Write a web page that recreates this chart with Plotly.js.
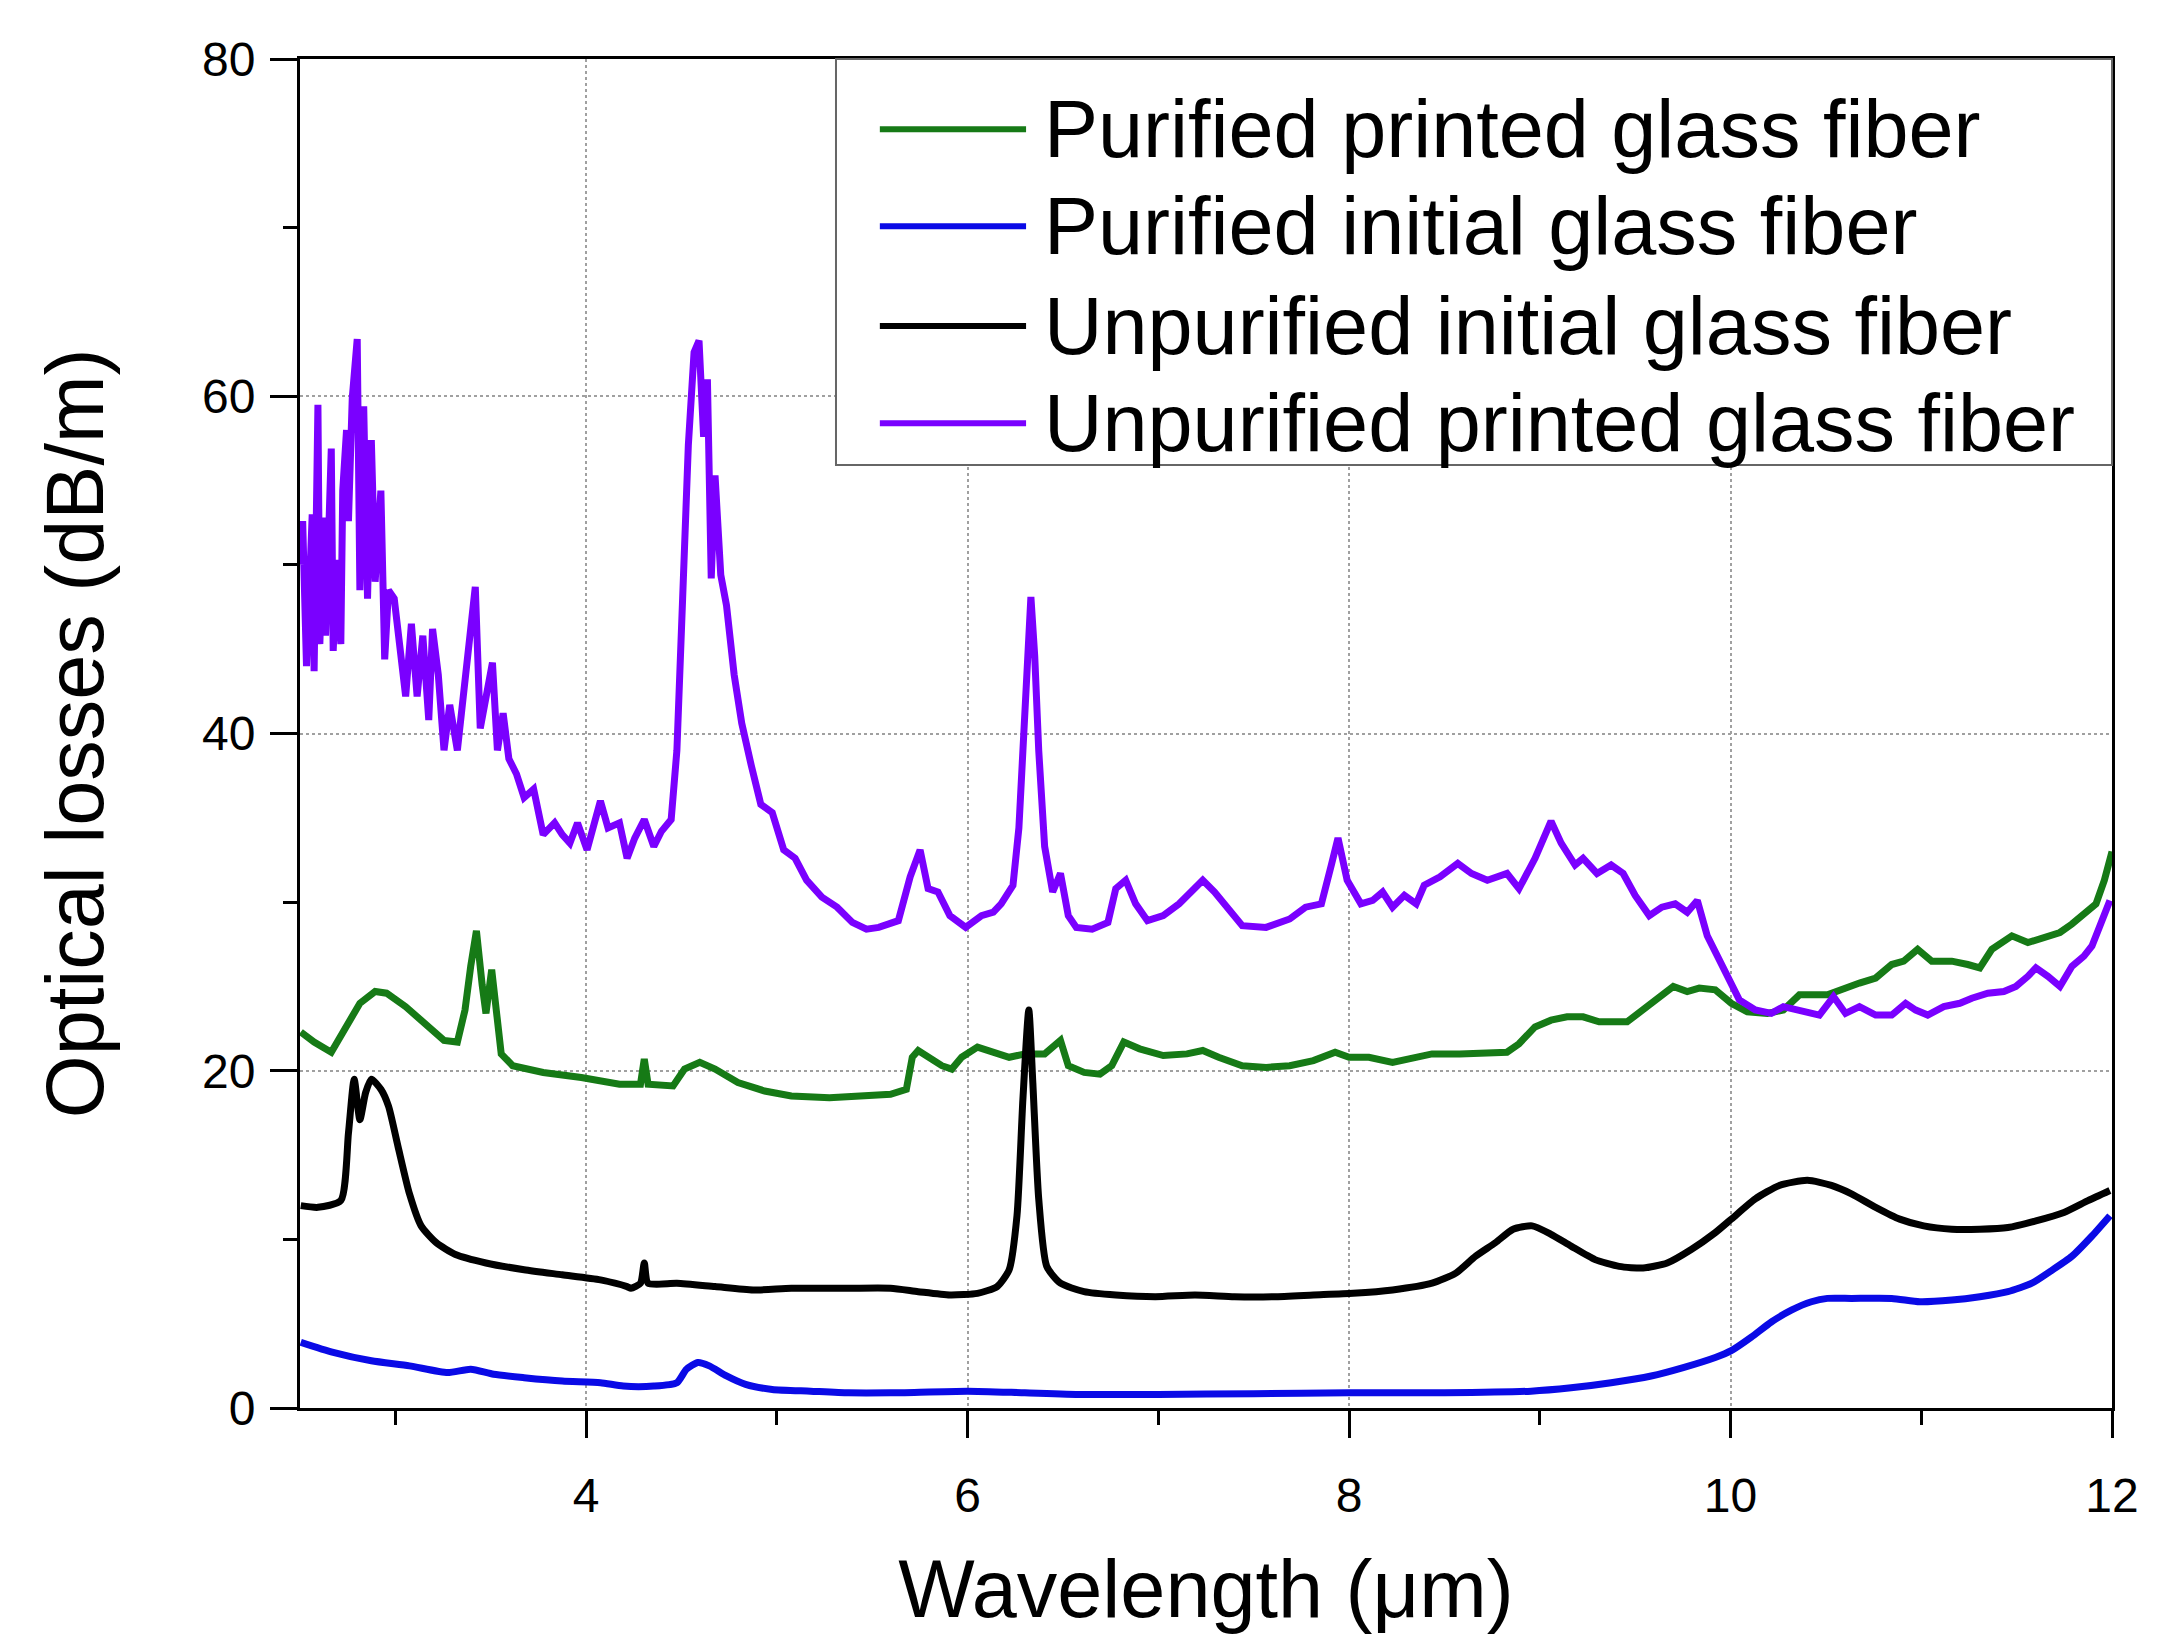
<!DOCTYPE html>
<html>
<head>
<meta charset="utf-8">
<script src="https://cdn.plot.ly/plotly-3.0.1.min.js"></script>
<style>
  html, body { margin: 0; padding: 0; background: #fff; }
  #chart { width: 2166px; height: 1648px; }
</style>
</head>
<body>
<div id="chart"></div>
<script>
/* Optical losses vs wavelength for four chalcogenide fibers.
   Values (x in um, y in dB/m). */

const wlPurPrinted = [2.504, 2.574, 2.664, 2.734, 2.814, 2.894, 2.954, 3.054, 3.155, 3.255, 3.325, 3.365, 3.395, 3.425, 3.455, 3.475, 3.505, 3.525, 3.555, 3.615, 3.775, 3.975, 4.175, 4.285, 4.305, 4.325, 4.456, 4.516, 4.596, 4.676, 4.796, 4.936, 5.076, 5.276, 5.476, 5.596, 5.679, 5.710, 5.741, 5.803, 5.865, 5.917, 5.969, 6.052, 6.135, 6.218, 6.301, 6.404, 6.487, 6.528, 6.611, 6.694, 6.756, 6.819, 6.902, 7.026, 7.150, 7.233, 7.316, 7.440, 7.565, 7.689, 7.813, 7.927, 8.000, 8.104, 8.228, 8.332, 8.435, 8.580, 8.725, 8.828, 8.891, 8.975, 9.059, 9.143, 9.227, 9.311, 9.458, 9.542, 9.626, 9.700, 9.773, 9.836, 9.920, 10.004, 10.088, 10.193, 10.277, 10.361, 10.508, 10.592, 10.676, 10.761, 10.845, 10.908, 10.981, 11.055, 11.160, 11.244, 11.307, 11.370, 11.475, 11.559, 11.643, 11.727, 11.790, 11.853, 11.916, 11.960, 12.0];
const lossPurPrinted = [22.3, 21.7, 21.1, 22.4, 24.0, 24.7, 24.6, 23.8, 22.8, 21.8, 21.7, 23.6, 26.2, 28.3, 25.1, 23.4, 26.0, 24.2, 21.0, 20.3, 19.9, 19.6, 19.2, 19.2, 20.7, 19.2, 19.1, 20.1, 20.5, 20.1, 19.3, 18.8, 18.5, 18.4, 18.5, 18.6, 18.9, 20.8, 21.2, 20.8, 20.3, 20.1, 20.8, 21.4, 21.1, 20.8, 21.0, 21.0, 21.8, 20.3, 19.9, 19.8, 20.3, 21.7, 21.3, 20.9, 21.0, 21.2, 20.8, 20.3, 20.2, 20.3, 20.6, 21.1, 20.8, 20.8, 20.5, 20.8, 21.0, 21.0, 21.0, 21.1, 21.6, 22.6, 23.0, 23.2, 23.2, 22.9, 22.9, 23.6, 24.4, 25.0, 24.7, 24.9, 24.8, 24.0, 23.5, 23.4, 23.6, 24.5, 24.5, 24.9, 25.2, 25.5, 26.3, 26.5, 27.2, 26.5, 26.5, 26.3, 26.1, 27.2, 28.0, 27.6, 27.9, 28.2, 28.7, 29.3, 29.9, 31.3, 33.0];

const wlPurInitial = [2.504, 2.674, 2.874, 3.074, 3.274, 3.395, 3.515, 3.675, 3.875, 4.075, 4.195, 4.355, 4.476, 4.526, 4.586, 4.646, 4.736, 4.836, 4.976, 5.176, 5.376, 5.596, 6.0, 6.3, 6.6, 7.0, 7.5, 8.0, 8.5, 8.954, 9.164, 9.374, 9.584, 9.752, 9.920, 10.004, 10.109, 10.214, 10.319, 10.424, 10.508, 10.634, 10.845, 10.992, 11.160, 11.307, 11.454, 11.580, 11.676, 11.790, 11.895, 11.989];
const lossPurInitial = [3.9, 3.3, 2.8, 2.5, 2.1, 2.3, 2.0, 1.8, 1.6, 1.5, 1.3, 1.3, 1.5, 2.3, 2.7, 2.5, 1.9, 1.4, 1.1, 1.0, 0.9, 0.9, 1.0, 0.9, 0.8, 0.8, 0.85, 0.9, 0.9, 1.0, 1.2, 1.5, 1.9, 2.4, 3.0, 3.4, 4.2, 5.1, 5.8, 6.3, 6.5, 6.5, 6.5, 6.3, 6.4, 6.6, 6.9, 7.4, 8.1, 9.0, 10.2, 11.4];

const wlUnpInitial = [2.504, 2.594, 2.714, 2.754, 2.784, 2.814, 2.844, 2.874, 2.924, 2.964, 3.014, 3.074, 3.135, 3.215, 3.315, 3.475, 3.675, 3.875, 4.075, 4.215, 4.235, 4.285, 4.305, 4.325, 4.476, 4.676, 4.876, 5.076, 5.376, 5.596, 5.741, 5.907, 6.052, 6.155, 6.218, 6.259, 6.290, 6.321, 6.342, 6.373, 6.415, 6.487, 6.611, 6.777, 6.984, 7.192, 7.399, 7.606, 7.813, 8.021, 8.228, 8.435, 8.560, 8.663, 8.767, 8.860, 8.960, 9.059, 9.164, 9.290, 9.416, 9.542, 9.668, 9.794, 9.920, 10.004, 10.130, 10.256, 10.403, 10.529, 10.634, 10.761, 10.887, 11.013, 11.160, 11.307, 11.454, 11.601, 11.748, 11.874, 11.989];
const lossUnpInitial = [12.0, 11.9, 12.3, 16.3, 19.5, 17.1, 18.7, 19.5, 18.9, 17.9, 15.5, 12.7, 10.8, 9.8, 9.1, 8.6, 8.2, 7.9, 7.6, 7.2, 7.1, 7.4, 8.6, 7.4, 7.4, 7.2, 7.0, 7.1, 7.1, 7.1, 6.9, 6.7, 6.8, 7.2, 8.2, 11.4, 18.3, 23.6, 19.3, 12.4, 8.4, 7.4, 6.9, 6.7, 6.6, 6.7, 6.6, 6.6, 6.7, 6.8, 7.0, 7.4, 8.0, 9.0, 9.8, 10.6, 10.8, 10.3, 9.6, 8.8, 8.4, 8.3, 8.6, 9.4, 10.4, 11.2, 12.4, 13.2, 13.5, 13.2, 12.7, 11.9, 11.2, 10.8, 10.6, 10.6, 10.7, 11.1, 11.6, 12.3, 12.9];

const wlUnpPrinted = [2.504, 2.514, 2.534, 2.564, 2.574, 2.594, 2.604, 2.624, 2.634, 2.664, 2.674, 2.694, 2.714, 2.724, 2.744, 2.754, 2.774, 2.800, 2.814, 2.834, 2.854, 2.874, 2.894, 2.924, 2.944, 2.964, 2.994, 3.024, 3.054, 3.084, 3.114, 3.144, 3.175, 3.195, 3.225, 3.255, 3.285, 3.325, 3.355, 3.385, 3.419, 3.445, 3.475, 3.509, 3.535, 3.565, 3.595, 3.635, 3.675, 3.725, 3.775, 3.835, 3.875, 3.915, 3.955, 4.005, 4.075, 4.115, 4.175, 4.215, 4.255, 4.305, 4.355, 4.395, 4.446, 4.476, 4.506, 4.536, 4.566, 4.592, 4.616, 4.636, 4.656, 4.676, 4.706, 4.736, 4.776, 4.816, 4.866, 4.916, 4.976, 5.036, 5.096, 5.156, 5.236, 5.316, 5.396, 5.470, 5.534, 5.637, 5.699, 5.751, 5.793, 5.845, 5.907, 5.990, 6.073, 6.135, 6.176, 6.238, 6.269, 6.301, 6.317, 6.332, 6.352, 6.373, 6.404, 6.446, 6.487, 6.528, 6.570, 6.653, 6.736, 6.777, 6.829, 6.881, 6.943, 7.026, 7.109, 7.192, 7.233, 7.295, 7.358, 7.440, 7.565, 7.689, 7.772, 7.855, 7.907, 7.942, 7.990, 8.062, 8.124, 8.176, 8.228, 8.290, 8.352, 8.394, 8.477, 8.570, 8.642, 8.725, 8.828, 8.891, 8.975, 9.059, 9.112, 9.185, 9.227, 9.300, 9.374, 9.437, 9.500, 9.574, 9.640, 9.710, 9.773, 9.826, 9.878, 9.962, 10.046, 10.130, 10.214, 10.277, 10.361, 10.466, 10.540, 10.603, 10.676, 10.761, 10.845, 10.918, 10.971, 11.034, 11.118, 11.202, 11.265, 11.349, 11.433, 11.496, 11.559, 11.601, 11.664, 11.727, 11.790, 11.853, 11.895, 11.937, 11.989];
const lossUnpPrinted = [50.0, 52.6, 44.0, 53.0, 43.7, 59.5, 45.3, 52.8, 45.8, 56.9, 44.9, 50.3, 45.3, 54.4, 58.0, 52.6, 59.9, 63.4, 48.5, 59.4, 48.0, 57.4, 49.0, 54.4, 44.4, 48.5, 48.0, 44.6, 42.2, 46.5, 42.2, 45.8, 40.8, 46.2, 43.5, 39.0, 41.7, 39.0, 42.2, 45.1, 48.7, 40.3, 42.2, 44.2, 39.0, 41.2, 38.5, 37.6, 36.2, 36.7, 34.0, 34.7, 34.0, 33.5, 34.7, 33.1, 36.0, 34.4, 34.7, 32.6, 33.8, 34.9, 33.3, 34.2, 34.9, 39.0, 48.0, 57.1, 62.6, 63.3, 57.6, 61.0, 49.2, 55.3, 49.4, 47.6, 43.5, 40.6, 38.1, 35.8, 35.3, 33.1, 32.6, 31.3, 30.3, 29.7, 28.8, 28.4, 28.5, 28.9, 31.5, 33.1, 30.8, 30.6, 29.2, 28.5, 29.2, 29.4, 29.9, 31.0, 34.4, 41.2, 45.8, 48.1, 44.6, 39.0, 33.3, 30.6, 31.7, 29.2, 28.5, 28.4, 28.8, 30.8, 31.3, 29.9, 28.9, 29.2, 29.9, 30.8, 31.3, 30.6, 29.7, 28.6, 28.5, 29.0, 29.7, 29.9, 32.2, 33.8, 31.3, 29.9, 30.1, 30.6, 29.7, 30.4, 29.9, 31.0, 31.5, 32.3, 31.7, 31.3, 31.7, 30.8, 32.6, 34.8, 33.5, 32.2, 32.6, 31.7, 32.2, 31.7, 30.4, 29.2, 29.7, 29.9, 29.4, 30.1, 28.0, 26.2, 24.2, 23.6, 23.4, 23.8, 23.6, 23.3, 24.4, 23.4, 23.8, 23.3, 23.3, 24.0, 23.6, 23.3, 23.8, 24.0, 24.3, 24.6, 24.7, 25.0, 25.6, 26.1, 25.6, 25.0, 26.2, 26.8, 27.4, 28.6, 30.1];

const seriesNames = ['Purified printed glass fiber', 'Purified initial glass fiber', 'Unpurified initial glass fiber', 'Unpurified printed glass fiber'];
const seriesColors = ['#167a16', '#0a0ae6', '#000000', '#7a00ff'];
const xTicks = [4, 6, 8, 10, 12];
const yTicks = [0, 20, 40, 60, 80];

(function () {
  const FONT = '"Liberation Sans", Arial, sans-serif';
  const xs = [wlPurPrinted, wlPurInitial, wlUnpInitial, wlUnpPrinted];
  const ys = [lossPurPrinted, lossPurInitial, lossUnpInitial, lossUnpPrinted];
  const smooth = [false, true, true, false];

  const traces = seriesNames.map((name, i) => ({
    type: 'scatter', mode: 'lines', name: name,
    x: xs[i], y: ys[i],
    line: smooth[i] ? { color: seriesColors[i], width: 7, shape: 'spline', smoothing: 0.6 }
                    : { color: seriesColors[i], width: 7 },
    showlegend: false, hoverinfo: 'skip'
  }));

  // hand-built legend: box, long line samples, text (Origin style)
  const LEG = { x0: 0.2958, x1: 1.0, y0: 0.699, y1: 1.0, lx0: 0.320, lx1: 0.4007, tx: 0.4095 };
  const rowY = [0.948, 0.876, 0.802, 0.730];
  const shapes = [{
    type: 'rect', xref: 'paper', yref: 'paper', layer: 'above',
    x0: LEG.x0, x1: LEG.x1, y0: LEG.y0, y1: LEG.y1,
    fillcolor: '#ffffff', line: { color: '#666666', width: 2 }
  }].concat(seriesNames.map((n, i) => ({
    type: 'line', xref: 'paper', yref: 'paper', layer: 'above',
    x0: LEG.lx0, x1: LEG.lx1, y0: rowY[i], y1: rowY[i],
    line: { color: seriesColors[i], width: 6 }
  })));
  const annotations = seriesNames.map((n, i) => ({
    xref: 'paper', yref: 'paper', x: LEG.tx, y: rowY[i],
    xanchor: 'left', yanchor: 'middle', showarrow: false, text: n,
    font: { family: FONT, size: 81, color: '#000' }
  }));

  const axisBase = {
    showline: true, mirror: true, linecolor: '#000', linewidth: 3,
    ticks: 'outside', tickwidth: 3, tickcolor: '#000', ticklen: 27,
    tickfont: { family: FONT, size: 48, color: '#000' },
    showgrid: true, gridcolor: '#a0a0a0', gridwidth: 2, griddash: 'dot',
    zeroline: false, autorange: false
  };

  const layout = {
    width: 2166, height: 1648,
    paper_bgcolor: '#fff', plot_bgcolor: '#fff',
    margin: { l: 300, r: 54, t: 59, b: 240 },
    showlegend: false,
    xaxis: Object.assign({}, axisBase, {
      range: [2.5, 12], tickmode: 'array', tickvals: xTicks,
      ticklabelstandoff: 16,
      minor: { dtick: 1, tick0: 0, ticklen: 14, tickwidth: 3, tickcolor: '#000', showgrid: false },
      title: { text: 'Wavelength (\u03bcm)', standoff: 40, font: { family: FONT, size: 81, color: '#000' } }
    }),
    yaxis: Object.assign({}, axisBase, {
      range: [0, 80], tickmode: 'array', tickvals: yTicks,
      ticklabelstandoff: 5,
      minor: { dtick: 10, tick0: 0, ticklen: 14, tickwidth: 3, tickcolor: '#000', showgrid: false },
      title: { text: 'Optical losses (dB/m)', standoff: 72, font: { family: FONT, size: 81, color: '#000' } }
    }),
    shapes: shapes,
    annotations: annotations
  };

  Plotly.newPlot('chart', traces, layout, { displayModeBar: false, staticPlot: true });
})();
</script>
</body>
</html>
